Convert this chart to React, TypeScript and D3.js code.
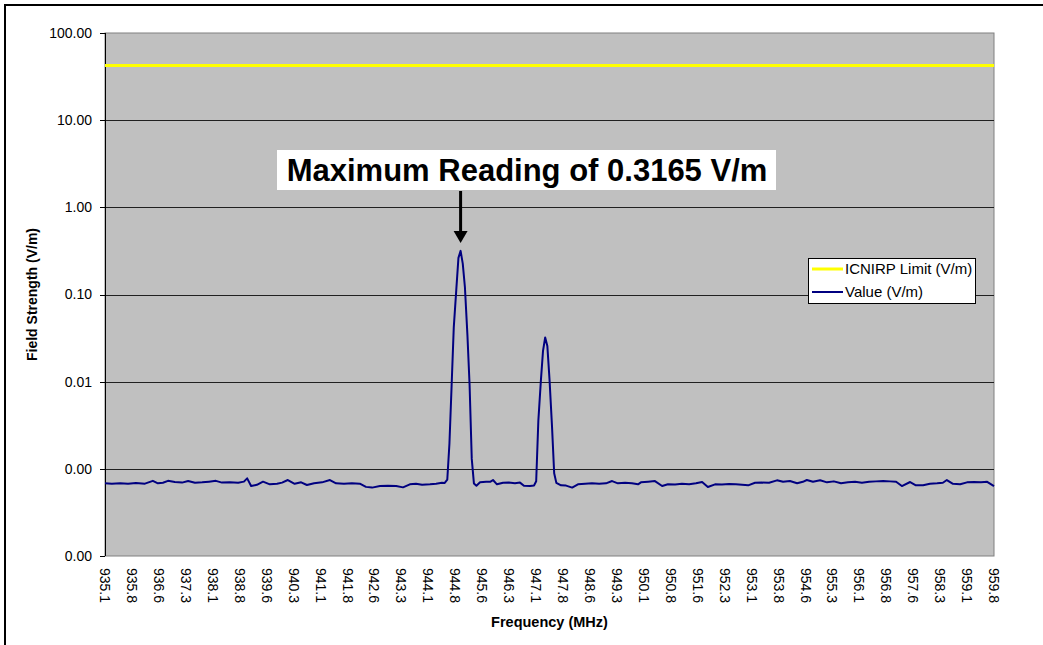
import React from "react";
import * as d3 from "d3";

// ---- data ----
const xTickLabels = [
  "935.1","935.8","936.6","937.3","938.1","938.8","939.6","940.3","941.1","941.8","942.6","943.3",
  "944.1","944.8","945.6","946.3","947.1","947.8","948.6","949.3","950.1","950.8","951.6","952.3",
  "953.1","953.8","954.6","955.3","956.1","956.8","957.6","958.3","959.1","959.8",
];
const freqRange = [935.1, 959.8];
const yTicks = [100, 10, 1, 0.1, 0.01, 0.001, 0.0001];
const icnirpLimit = 42.3;
const maxReadingLabel = "Maximum Reading of 0.3165 V/m";
const peakFreq = 944.98;
const peakValue = 0.3165;

// [MHz, V/m]
const readings: [number, number][] = [
  [935.10,0.000682],[935.29,0.000676],[935.52,0.000682],[935.74,0.000676],[935.96,0.00069],
  [936.21,0.000676],[936.43,0.000728],[936.57,0.000682],[936.71,0.000692],[936.85,0.000728],
  [937.04,0.000706],[937.24,0.000695],[937.41,0.000724],[937.60,0.000692],[937.80,0.0007],
  [937.99,0.000713],[938.18,0.000728],[938.35,0.000695],[938.57,0.0007],[938.80,0.000692],
  [938.96,0.000713],[939.05,0.000778],[939.16,0.000635],[939.32,0.000655],[939.49,0.000713],
  [939.68,0.000664],[939.88,0.000676],[940.02,0.000695],[940.18,0.000744],[940.37,0.000673],
  [940.55,0.0007],[940.71,0.000652],[940.91,0.000682],[941.13,0.0007],[941.35,0.000744],
  [941.52,0.000682],[941.74,0.000676],[941.96,0.000682],[942.18,0.000676],[942.35,0.000621],
  [942.52,0.000609],[942.74,0.000635],[942.96,0.000638],[943.19,0.000635],[943.38,0.000613],
  [943.57,0.000664],[943.74,0.000676],[943.91,0.000655],[944.13,0.000664],[944.30,0.000676],
  [944.46,0.000692],[944.54,0.00069],
  [944.61,0.00075],[944.67,0.00195],[944.73,0.0089],[944.79,0.0417],[944.86,0.113],
  [944.92,0.263],[944.98,0.3165],[945.04,0.226],[945.10,0.121],[945.17,0.034],
  [945.23,0.0091],[945.29,0.0013],[945.35,0.00068],[945.42,0.00064],
  [945.52,0.0007],[945.69,0.000713],[945.80,0.00071],[945.88,0.000744],[945.99,0.000664],
  [946.16,0.000692],[946.32,0.000695],[946.49,0.000682],[946.63,0.000695],[946.74,0.000638],
  [946.91,0.000635],[947.02,0.000645],
  [947.08,0.00072],[947.14,0.00355],[947.21,0.0102],[947.27,0.0226],[947.33,0.0321],
  [947.39,0.0257],[947.45,0.0107],[947.52,0.00305],[947.58,0.00089],[947.64,0.00069],
  [947.77,0.000647],[947.91,0.000642],[948.08,0.000609],[948.24,0.000664],[948.44,0.000676],
  [948.63,0.000682],[948.83,0.000673],[949.02,0.000682],[949.19,0.000724],[949.35,0.000682],
  [949.55,0.000692],[949.74,0.000682],[949.91,0.000664],[949.99,0.0007],[950.19,0.000713],
  [950.38,0.000724],[950.58,0.000635],[950.74,0.000664],[950.94,0.00066],[951.13,0.000673],
  [951.33,0.000664],[951.52,0.000682],[951.69,0.000706],[951.85,0.000618],[952.05,0.000664],
  [952.24,0.00066],[952.44,0.00067],[952.63,0.000664],[952.80,0.000655],[952.97,0.000647],
  [953.16,0.000692],[953.35,0.000695],[953.55,0.000692],[953.77,0.000738],[953.94,0.00071],
  [954.13,0.000724],[954.33,0.000682],[954.49,0.00071],[954.60,0.000744],[954.77,0.00071],
  [954.97,0.000738],[955.16,0.0007],[955.35,0.000718],[955.55,0.000682],[955.74,0.0007],
  [955.94,0.00071],[956.13,0.000692],[956.33,0.00071],[956.52,0.000718],[956.72,0.000724],
  [956.91,0.000718],[957.08,0.00071],[957.24,0.000635],[957.47,0.000706],[957.63,0.000647],
  [957.83,0.000647],[958.02,0.000673],[958.22,0.000682],[958.38,0.000692],[958.49,0.000744],
  [958.66,0.000673],[958.86,0.000664],[959.05,0.0007],[959.24,0.000706],[959.44,0.0007],
  [959.61,0.00071],[959.80,0.000635],
];

const W = 1043;
const H = 645;
const plot = { left: 105, right: 994, top: 33, bottom: 556 };
const FONT = "Arial, 'Liberation Sans', Helvetica, sans-serif";

export default function App() {
  const x = d3.scaleLinear().domain(freqRange).range([plot.left, plot.right]);
  const xCat = d3.scalePoint<string>().domain(xTickLabels).range([plot.left, plot.right]);
  const y = d3.scaleLog().domain([0.0001, 100]).range([plot.bottom, plot.top]);

  const line = d3
    .line<[number, number]>()
    .x((d) => x(d[0]))
    .y((d) => y(d[1]));

  const limitPath = line([
    [freqRange[0], icnirpLimit],
    [freqRange[1], icnirpLimit],
  ]) as string;

  const px = x(peakFreq);
  const py = y(peakValue);
  const yMid = (plot.top + plot.bottom) / 2;
  const xMid = (plot.left + plot.right) / 2;

  return (
    <svg
      width={W}
      height={H}
      style={{ position: "absolute", left: 0, top: 0, background: "#fff" }}
      fontFamily={FONT}
    >
      <rect x={0} y={0} width={W} height={H} fill="#fff" />
      <rect x={5} y={5} width={W + 20} height={H + 20} fill="none" stroke="#000" strokeWidth={2} />

      {/* plot area */}
      <rect
        x={plot.left}
        y={plot.top}
        width={plot.right - plot.left}
        height={plot.bottom - plot.top}
        fill="#C0C0C0"
        stroke="#808080"
        strokeWidth={1}
      />

      {/* gridlines */}
      {yTicks.slice(1, -1).map((t) => (
        <line
          key={t}
          x1={plot.left}
          x2={plot.right}
          y1={Math.round(y(t)) + 0.5}
          y2={Math.round(y(t)) + 0.5}
          stroke="#202020"
          strokeWidth={1}
        />
      ))}

      {/* y axis */}
      <line x1={plot.left + 0.5} x2={plot.left + 0.5} y1={plot.top} y2={plot.bottom} stroke="#000" />
      {yTicks.map((t) => (
        <g key={"yt" + t}>
          <line
            x1={plot.left - 5}
            x2={plot.left}
            y1={Math.round(y(t)) + 0.5}
            y2={Math.round(y(t)) + 0.5}
            stroke="#000"
          />
          <text
            x={plot.left - 13}
            y={y(t)}
            dy="0.35em"
            textAnchor="end"
            fontSize={14}
            fill="#000"
          >
            {d3.format(".2f")(t)}
          </text>
        </g>
      ))}

      {/* x tick labels */}
      {xTickLabels.map((lab) => (
        <text
          key={lab}
          transform={`translate(${xCat(lab)},${plot.bottom + 12}) rotate(90)`}
          dy="0.35em"
          textAnchor="start"
          fontSize={14}
          fill="#000"
        >
          {lab}
        </text>
      ))}

      {/* axis titles */}
      <text x={xMid} y={627} textAnchor="middle" fontSize={14.5} fontWeight="bold" fill="#000">
        Frequency (MHz)
      </text>
      <text
        transform={`translate(37,${yMid}) rotate(-90)`}
        textAnchor="middle"
        fontSize={14}
        fontWeight="bold"
        fill="#000"
      >
        Field Strength (V/m)
      </text>

      {/* series */}
      <path d={limitPath} fill="none" stroke="#FFFF00" strokeWidth={3} />
      <path d={line(readings) as string} fill="none" stroke="#000080" strokeWidth={2} strokeLinejoin="round" />

      {/* annotation */}
      <rect x={277} y={150} width={499} height={40} fill="#fff" />
      <text x={527} y={181} textAnchor="middle" fontSize={31} fontWeight="bold" fill="#000">
        {maxReadingLabel}
      </text>
      <line x1={px} x2={px} y1={191} y2={py - 18} stroke="#000" strokeWidth={3} />
      <path d={`M${px - 7},${py - 20} L${px + 7},${py - 20} L${px},${py - 8} Z`} fill="#000" />

      {/* legend */}
      <rect x={808.5} y={258.5} width={167} height={45} fill="#fff" stroke="#000" strokeWidth={1} />
      <line x1={812} x2={843} y1={269} y2={269} stroke="#FFFF00" strokeWidth={3} />
      <text x={845} y={269} dy="0.35em" fontSize={15} fill="#000">
        ICNIRP Limit (V/m)
      </text>
      <line x1={812} x2={843} y1={292} y2={292} stroke="#000080" strokeWidth={2} />
      <text x={845} y={292} dy="0.35em" fontSize={15} fill="#000">
        Value (V/m)
      </text>
    </svg>
  );
}
